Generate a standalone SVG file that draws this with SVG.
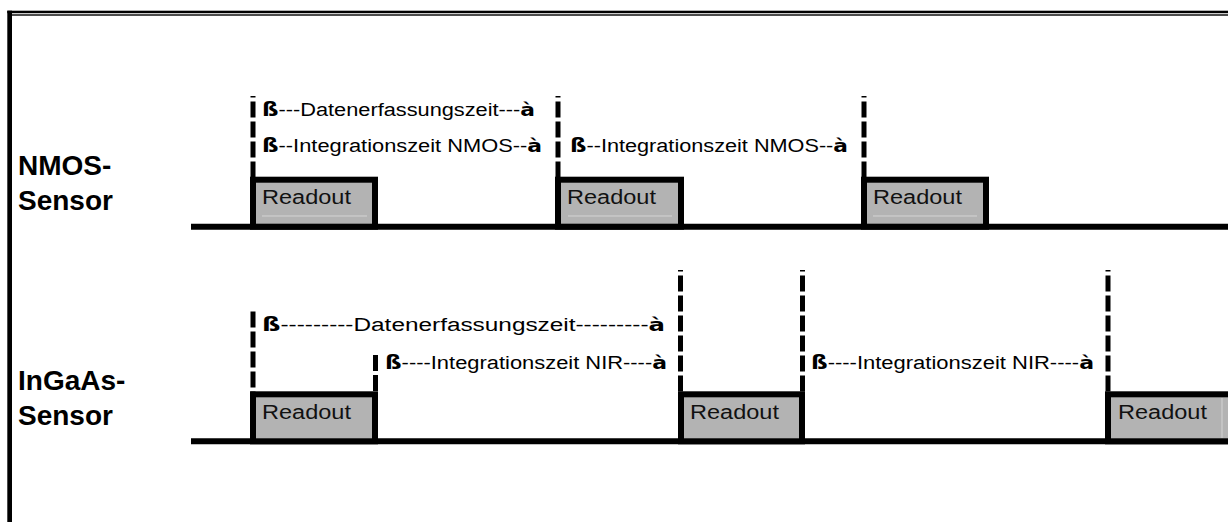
<svg xmlns="http://www.w3.org/2000/svg" width="1228" height="522" viewBox="0 0 1228 522">
<style>
.lbl{font-family:"Liberation Sans",Arial,sans-serif;font-weight:bold;font-size:28px;fill:#000}
.ann{font-family:"Liberation Sans",Arial,sans-serif;font-size:18px;fill:#000}
.sym{font-family:"DejaVu Sans","Liberation Sans",sans-serif;font-weight:bold;font-size:19px}
.sb{font-family:"DejaVu Sans","Liberation Sans",sans-serif;font-weight:bold}
.ro{font-family:"Liberation Sans",Arial,sans-serif;font-size:20px;fill:#111}
.box{fill:#b3b3b3;stroke:#000;stroke-width:6}
.hl{stroke:#d4d4d4;stroke-width:1}
.base{stroke:#000;stroke-width:6;fill:none}
.dash{stroke:#000;stroke-width:5;fill:none;stroke-dasharray:16 4}
.tiny{stroke-dashoffset:14.5}
</style>
<rect x="0" y="0" width="1228" height="522" fill="#fff"/>
<g id="frame">
<rect x="7.3" y="10.7" width="1221" height="2.5" fill="#000"/>
<rect x="7.3" y="10.7" width="4.7" height="512" fill="#000"/>
<rect x="12" y="14.3" width="1216" height="1.4" fill="#000"/>
</g>
<g id="connectors">
<line class="base" x1="191" y1="226.7" x2="1228" y2="226.7"/>
<line class="base" x1="191" y1="441.3" x2="1228" y2="441.3"/>
<line class="dash tiny" x1="253" y1="96" x2="253" y2="177"/>
<line class="dash tiny" x1="558" y1="96" x2="558" y2="177"/>
<line class="dash tiny" x1="864" y1="96" x2="864" y2="177"/>
<line class="dash" x1="253" y1="311.5" x2="253" y2="392"/>
<line class="dash" x1="375.5" y1="355" x2="375.5" y2="392"/>
<line class="dash tiny" x1="680.5" y1="270" x2="680.5" y2="392"/>
<line class="dash tiny" x1="802.5" y1="270" x2="802.5" y2="392"/>
<line class="dash tiny" x1="1108" y1="270" x2="1108" y2="392"/>
</g>
<g id="label-nmos">
<text class="lbl" x="18" y="175">NMOS-</text>
<text class="lbl" x="18" y="210">Sensor</text>
</g>
<g id="label-ingaas">
<text class="lbl" x="18" y="390">InGaAs-</text>
<text class="lbl" x="18" y="425">Sensor</text>
</g>
<g id="nmos-readout-1">
<rect class="box" x="253" y="179.7" width="122" height="47"/>
<line class="hl" x1="262" y1="216" x2="367" y2="216"/>
<text class="ro" x="262" y="204" textLength="89" lengthAdjust="spacingAndGlyphs">Readout</text>
</g>
<g id="nmos-readout-2">
<rect class="box" x="558" y="179.7" width="123" height="47"/>
<line class="hl" x1="568" y1="216" x2="672" y2="216"/>
<text class="ro" x="567" y="204" textLength="89" lengthAdjust="spacingAndGlyphs">Readout</text>
</g>
<g id="nmos-readout-3">
<rect class="box" x="864" y="179.7" width="122" height="47"/>
<line class="hl" x1="873" y1="216" x2="977" y2="216"/>
<text class="ro" x="873" y="204" textLength="89" lengthAdjust="spacingAndGlyphs">Readout</text>
</g>
<g id="ingaas-readout-1">
<rect class="box" x="253" y="394.3" width="122" height="47"/>
<text class="ro" x="262" y="419" textLength="89" lengthAdjust="spacingAndGlyphs">Readout</text>
</g>
<g id="ingaas-readout-2">
<rect class="box" x="681" y="394.3" width="121" height="47"/>
<text class="ro" x="690" y="419" textLength="89" lengthAdjust="spacingAndGlyphs">Readout</text>
</g>
<g id="ingaas-readout-3">
<rect class="box" x="1108" y="394.3" width="130" height="47"/>
<line class="hl" x1="1222" y1="398" x2="1222" y2="438"/>
<text class="ro" x="1118" y="419" textLength="89" lengthAdjust="spacingAndGlyphs">Readout</text>
</g>
<g id="nmos-daten">
<text class="ann" x="262" y="116" textLength="273" lengthAdjust="spacingAndGlyphs"><tspan class="sym">ß</tspan>---Datenerfassungszeit---<tspan class="sb">à</tspan></text>
</g>
<g id="nmos-integ-1">
<text class="ann" x="262" y="152" textLength="280" lengthAdjust="spacingAndGlyphs"><tspan class="sym">ß</tspan>--Integrationszeit NMOS--<tspan class="sb">à</tspan></text>
</g>
<g id="nmos-integ-2">
<text class="ann" x="570" y="152" textLength="278" lengthAdjust="spacingAndGlyphs"><tspan class="sym">ß</tspan>--Integrationszeit NMOS--<tspan class="sb">à</tspan></text>
</g>
<g id="ingaas-daten">
<text class="ann" x="262" y="331" textLength="403" lengthAdjust="spacingAndGlyphs"><tspan class="sym">ß</tspan>---------Datenerfassungszeit---------<tspan class="sb">à</tspan></text>
</g>
<g id="ingaas-integ-1">
<text class="ann" x="385" y="369" textLength="282" lengthAdjust="spacingAndGlyphs"><tspan class="sym">ß</tspan>----Integrationszeit NIR----<tspan class="sb">à</tspan></text>
</g>
<g id="ingaas-integ-2">
<text class="ann" x="811" y="369" textLength="283" lengthAdjust="spacingAndGlyphs"><tspan class="sym">ß</tspan>----Integrationszeit NIR----<tspan class="sb">à</tspan></text>
</g>
</svg>
